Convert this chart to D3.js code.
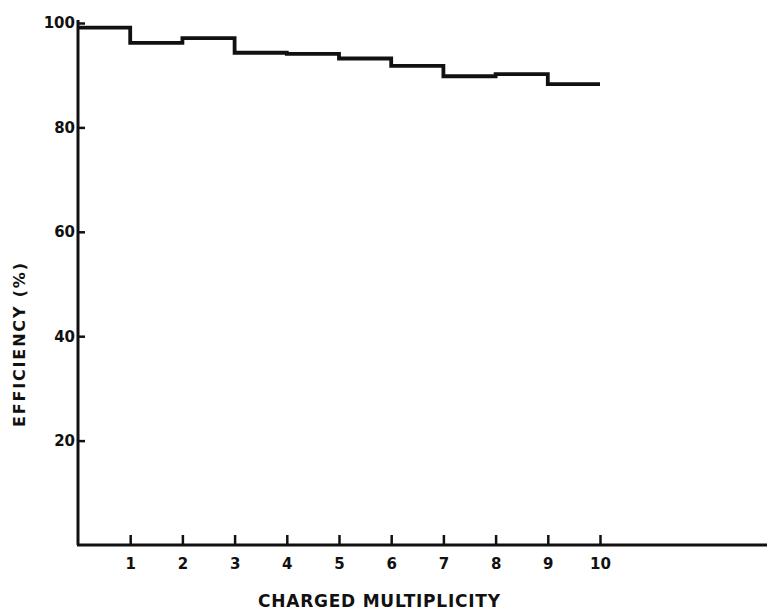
<!DOCTYPE html>
<html>
<head>
<meta charset="utf-8">
<script src="https://cdn.jsdelivr.net/npm/d3@7/dist/d3.min.js"></script>
<style>
  html, body { margin: 0; padding: 0; background: #fff; }
  svg { display: block; }
  text { font-family: "DejaVu Sans", sans-serif; fill: #111; }
</style>
</head>
<body>
<script>
// Charged multiplicity bins (lower edge of each unit-wide bin)
const binStarts = [0, 1, 2, 3, 4, 5, 6, 7, 8, 9];
// Efficiency (%) in each bin
const efficiency = [99.1, 96.2, 97.1, 94.3, 94.1, 93.2, 91.8, 89.8, 90.2, 88.3];
// Axis tick values
const xTicks = [1, 2, 3, 4, 5, 6, 7, 8, 9, 10];
const yTicks = [20, 40, 60, 80, 100];

const W = 767, H = 615;
const svg = d3.select("body").append("svg").attr("width", W).attr("height", H);

const x = d3.scaleLinear().domain([0, 10]).range([78, 600]);
const y = d3.scaleLinear().domain([0, 100]).range([545, 23]);

const ink = "#111";

// y axis line
svg.append("line")
  .attr("x1", x(0)).attr("x2", x(0))
  .attr("y1", y(100) - 3).attr("y2", y(0))
  .attr("stroke", ink).attr("stroke-width", 3);

// x axis line, running to the right edge
svg.append("line")
  .attr("x1", x(0) - 1).attr("x2", W)
  .attr("y1", y(0)).attr("y2", y(0))
  .attr("stroke", ink).attr("stroke-width", 3);

const yAxis = d3.axisLeft(y).tickValues(yTicks).tickSize(-7).tickPadding(10).tickFormat(d3.format("d"));
const gy = svg.append("g").attr("transform", `translate(${x(0)},0)`).call(yAxis);
gy.select(".domain").remove();
gy.selectAll(".tick line").attr("stroke", ink).attr("stroke-width", 2.5);
gy.selectAll(".tick text")
  .attr("x", -3)
  .style("font-size", "15px").style("font-weight", "bold").attr("fill", ink);

const xAxis = d3.axisBottom(x).tickValues(xTicks).tickSize(-10).tickPadding(13).tickFormat(d3.format("d"));
const gx = svg.append("g").attr("transform", `translate(0,${y(0)})`).call(xAxis);
gx.select(".domain").remove();
gx.selectAll(".tick line").attr("stroke", ink).attr("stroke-width", 2.5);
gx.selectAll(".tick text")
  .style("font-size", "15px").style("font-weight", "bold").attr("fill", ink);

// Stepped efficiency histogram outline
const pts = [];
binStarts.forEach((b, i) => {
  pts.push([b, efficiency[i]]);
  pts.push([b + 1, efficiency[i]]);
});
const line = d3.line().x(d => x(d[0])).y(d => y(d[1]));
svg.append("path")
  .attr("d", line(pts))
  .attr("fill", "none")
  .attr("stroke", ink)
  .attr("stroke-width", 3.8)
  .attr("stroke-linejoin", "miter");

// Axis titles
svg.append("text")
  .attr("x", 258).attr("y", 607)
  .attr("textLength", 242).attr("lengthAdjust", "spacing")
  .style("font-size", "17px").style("font-weight", "bold")
  .text("CHARGED MULTIPLICITY");

svg.append("text")
  .attr("transform", "translate(25,345) rotate(-90)")
  .attr("text-anchor", "middle")
  .attr("textLength", 164).attr("lengthAdjust", "spacing")
  .style("font-size", "16px").style("font-weight", "bold")
  .text("EFFICIENCY (%)");
</script>
</body>
</html>
